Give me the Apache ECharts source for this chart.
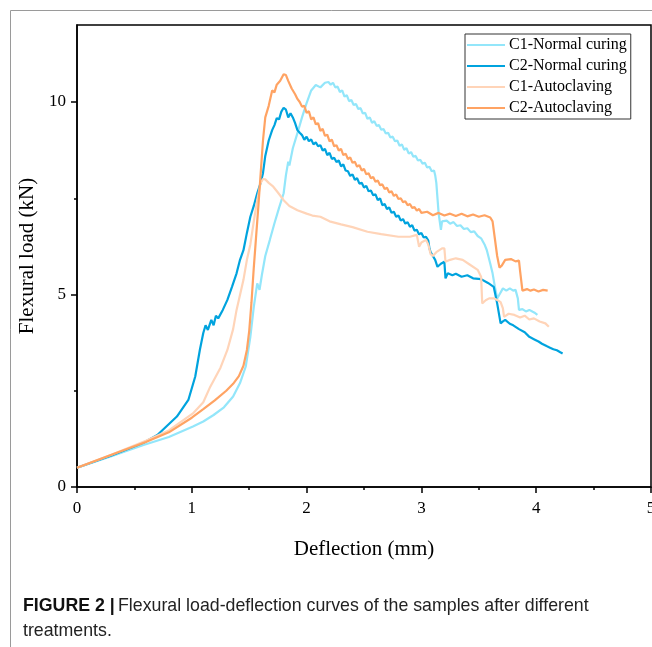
<!DOCTYPE html>
<html>
<head>
<meta charset="utf-8">
<script src="https://cdn.jsdelivr.net/npm/echarts@6/dist/echarts.min.js"></script>
<style>
html,body{margin:0;padding:0;background:#fff;}
#chart{width:652px;height:647px;}
</style>
</head>
<body>
<div id="chart"></div>
<script>
// ---- data (deflection mm, load kN) ----
const seriesNames = ['C1-Normal curing', 'C2-Normal curing', 'C1-Autoclaving', 'C2-Autoclaving'];
const xTicks = [0, 1, 2, 3, 4, 5];
const yTicks = [0, 5, 10];

const c1Normal = [
  [0,0.5],[0.3,0.8],[0.58,1.09],[0.8,1.3],[1.01,1.57],[1.1,1.7],[1.19,1.87],[1.28,2.07],[1.36,2.35],[1.42,2.7],
  [1.47,3.13],[1.51,3.9],[1.54,4.68],[1.57,5.29],[1.59,5.12],[1.61,5.5],[1.64,6.0],[1.68,6.42],[1.72,6.85],
  [1.76,7.25],[1.8,7.63],[1.82,8.1],[1.84,8.45],[1.85,8.35],[1.88,8.8],[1.92,9.19],[1.96,9.6],[2.0,9.97],
  [2.04,10.3],[2.08,10.44],[2.12,10.38],[2.16,10.5],[2.19,10.52],[2.21,10.45],[2.23,10.5],[2.25,10.38],
  [2.27,10.4],[2.29,10.26],[2.31,10.3],[2.33,10.14],[2.35,10.18],[2.37,10.02],[2.39,10.05],[2.41,9.92],
  [2.43,9.95],[2.45,9.82],[2.47,9.84],[2.49,9.7],[2.51,9.72],[2.53,9.56],[2.55,9.6],[2.57,9.46],[2.59,9.5],
  [2.61,9.38],[2.63,9.4],[2.65,9.28],[2.67,9.3],[2.69,9.18],[2.71,9.2],[2.73,9.08],[2.75,9.1],[2.77,8.98],
  [2.79,9.0],[2.81,8.86],[2.83,8.9],[2.85,8.76],[2.87,8.8],[2.89,8.66],[2.91,8.7],[2.93,8.58],[2.95,8.6],
  [2.97,8.48],[2.99,8.5],[3.01,8.4],[3.03,8.42],[3.05,8.3],[3.07,8.32],[3.09,8.2],[3.11,8.22],[3.12,8.1],
  [3.13,7.9],[3.15,7.11],[3.17,6.68],[3.18,6.9],[3.22,6.92],[3.25,6.84],[3.28,6.88],[3.31,6.78],[3.34,6.8],
  [3.37,6.7],[3.4,6.72],[3.43,6.62],[3.46,6.64],[3.49,6.52],[3.52,6.46],[3.55,6.3],[3.57,6.15],[3.6,5.8],
  [3.62,5.55],[3.64,5.2],[3.66,4.9],[3.68,5.0],[3.71,5.16],[3.74,5.1],[3.77,5.16],[3.8,5.1],[3.82,5.12],
  [3.84,4.9],[3.85,4.6],[3.88,4.62],[3.91,4.56],[3.94,4.6],[3.97,4.55],[3.99,4.52],[4.01,4.47]
];

const c2Normal = [
  [0,0.5],[0.3,0.82],[0.58,1.15],[0.7,1.35],[0.87,1.83],[0.97,2.26],[1.03,2.87],[1.07,3.56],[1.1,4.0],
  [1.12,4.2],[1.14,4.08],[1.17,4.34],[1.19,4.2],[1.21,4.45],[1.23,4.38],[1.27,4.6],[1.31,4.86],[1.35,5.2],
  [1.39,5.55],[1.42,5.9],[1.45,6.15],[1.48,6.6],[1.51,7.02],[1.54,7.3],[1.57,7.63],[1.6,7.9],[1.62,8.15],
  [1.64,8.6],[1.67,9.0],[1.7,9.27],[1.72,9.4],[1.74,9.58],[1.76,9.55],[1.78,9.75],[1.8,9.85],[1.82,9.8],
  [1.84,9.6],[1.86,9.71],[1.88,9.6],[1.9,9.45],[1.92,9.27],[1.94,9.2],[1.96,9.14],[1.98,9.02],[2.0,9.1],
  [2.02,8.98],[2.04,9.03],[2.06,8.9],[2.08,8.95],[2.1,8.85],[2.12,8.88],[2.14,8.74],[2.16,8.78],[2.18,8.62],
  [2.2,8.68],[2.22,8.52],[2.24,8.55],[2.26,8.44],[2.28,8.48],[2.3,8.33],[2.32,8.38],[2.34,8.22],[2.36,8.2],
  [2.38,8.08],[2.4,8.12],[2.42,7.98],[2.44,8.02],[2.46,7.88],[2.48,7.9],[2.5,7.78],[2.52,7.82],[2.54,7.68],
  [2.56,7.7],[2.58,7.58],[2.6,7.6],[2.62,7.45],[2.64,7.5],[2.66,7.32],[2.68,7.35],[2.7,7.22],[2.72,7.26],
  [2.74,7.12],[2.76,7.15],[2.78,7.02],[2.8,7.05],[2.82,6.92],[2.84,6.96],[2.86,6.84],[2.88,6.88],[2.9,6.76],
  [2.92,6.8],[2.94,6.66],[2.96,6.68],[2.98,6.56],[3.0,6.6],[3.02,6.48],[3.04,6.5],[3.06,6.4],[3.07,6.2],
  [3.08,6.1],[3.1,6.0],[3.12,5.9],[3.14,5.72],[3.17,5.8],[3.2,5.85],[3.21,5.42],[3.23,5.55],[3.27,5.5],
  [3.3,5.54],[3.35,5.46],[3.4,5.5],[3.45,5.42],[3.52,5.4],[3.58,5.3],[3.63,5.2],[3.66,4.77],[3.69,4.25],
  [3.71,4.3],[3.73,4.34],[3.77,4.24],[3.8,4.2],[3.85,4.1],[3.9,4.02],[3.94,3.9],[3.98,3.84],[4.02,3.78],
  [4.05,3.72],[4.09,3.66],[4.12,3.62],[4.15,3.58],[4.18,3.55],[4.21,3.5],[4.23,3.47]
];

const c1Auto = [
  [0,0.5],[0.3,0.84],[0.6,1.2],[0.8,1.47],[1.01,1.91],[1.1,2.2],[1.16,2.6],[1.25,3.1],[1.31,3.56],
  [1.36,4.1],[1.39,4.6],[1.45,5.38],[1.48,5.9],[1.51,6.3],[1.54,6.9],[1.57,7.45],[1.6,7.9],[1.62,8.0],
  [1.64,7.99],[1.67,7.9],[1.71,7.8],[1.75,7.65],[1.8,7.45],[1.85,7.3],[1.92,7.19],[2.0,7.1],[2.05,7.05],
  [2.12,7.02],[2.2,6.9],[2.3,6.82],[2.4,6.75],[2.53,6.63],[2.65,6.57],[2.8,6.5],[2.9,6.5],[2.96,6.55],
  [2.98,6.24],[3.0,6.35],[3.04,6.42],[3.06,6.3],[3.08,6.05],[3.1,6.0],[3.13,6.1],[3.18,6.2],[3.2,6.2],
  [3.21,5.85],[3.25,5.9],[3.3,5.94],[3.36,5.9],[3.42,5.78],[3.49,5.64],[3.52,5.46],[3.53,4.77],[3.56,4.85],
  [3.59,4.9],[3.63,4.9],[3.66,4.86],[3.69,4.8],[3.71,4.64],[3.72,4.42],[3.76,4.5],[3.81,4.47],[3.86,4.4],
  [3.9,4.45],[3.94,4.35],[3.98,4.38],[4.03,4.3],[4.08,4.25],[4.11,4.16]
];

const c2Auto = [
  [0,0.5],[0.3,0.84],[0.6,1.17],[0.8,1.42],[1.0,1.8],[1.1,2.02],[1.2,2.25],[1.3,2.5],[1.36,2.68],
  [1.41,2.88],[1.45,3.15],[1.48,3.56],[1.5,4.05],[1.52,4.8],[1.54,5.7],[1.56,6.5],[1.58,7.3],[1.6,8.15],
  [1.62,9.0],[1.64,9.6],[1.67,9.9],[1.7,10.3],
  [1.72,10.25],[1.74,10.45],[1.77,10.55],[1.8,10.72],[1.82,10.7],[1.84,10.55],[1.87,10.35],[1.9,10.2],
  [1.92,10.08],[1.94,10.0],[1.96,9.88],[1.98,9.9],[2.0,9.72],[2.02,9.76],[2.04,9.55],[2.06,9.6],[2.08,9.42],
  [2.1,9.45],[2.12,9.25],[2.14,9.3],[2.16,9.12],[2.18,9.15],[2.2,8.98],[2.22,9.02],[2.24,8.85],[2.26,8.88],
  [2.28,8.74],[2.3,8.78],[2.32,8.62],[2.34,8.66],[2.36,8.52],[2.38,8.56],[2.4,8.42],[2.42,8.45],[2.44,8.32],
  [2.46,8.36],[2.48,8.22],[2.5,8.26],[2.52,8.12],[2.54,8.15],[2.56,8.02],[2.58,8.05],[2.6,7.93],[2.62,7.96],
  [2.64,7.84],[2.66,7.86],[2.68,7.74],[2.7,7.77],[2.72,7.65],[2.74,7.68],[2.76,7.56],[2.78,7.6],[2.8,7.48],
  [2.82,7.5],[2.84,7.4],[2.86,7.42],[2.88,7.32],[2.9,7.35],[2.92,7.25],[2.94,7.27],[2.96,7.18],[2.98,7.22],
  [3.0,7.12],[3.05,7.15],[3.1,7.06],[3.15,7.12],[3.2,7.05],[3.25,7.1],[3.3,7.04],[3.35,7.1],[3.4,7.03],
  [3.45,7.08],[3.5,7.02],[3.55,7.06],[3.6,7.0],[3.62,6.9],[3.66,6.0],[3.68,5.7],[3.7,5.75],[3.73,5.9],
  [3.78,5.92],[3.82,5.86],[3.85,5.88],[3.86,5.6],[3.88,5.1],[3.92,5.14],[3.95,5.1],[3.98,5.13],[4.02,5.08],
  [4.06,5.12],[4.1,5.1]
];

const seriesData = [c1Normal, c2Normal, c1Auto, c2Auto];
const colors = ['#93E6FA', '#00A3DE', '#FFD4B8', '#FFA363'];

const chart = echarts.init(document.getElementById('chart'), null, {renderer: 'canvas'});
const serif = '"Liberation Serif", "Times New Roman", serif';
const sans = '"Liberation Sans", Arial, sans-serif';

chart.setOption({
  animation: false,
  backgroundColor: '#ffffff',
  color: colors,
  grid: {left: 77, right: 1, top: 25, bottom: 160, show: true, borderColor: '#000', borderWidth: 1.5,
    backgroundColor: 'transparent', containLabel: false, outerBoundsMode: 'none'},
  legend: {
    data: seriesNames,
    orient: 'vertical',
    left: 465, top: 34,
    backgroundColor: '#fff',
    borderColor: '#333', borderWidth: 1,
    padding: [2, 4, 2, 2],
    itemWidth: 38, itemHeight: 2, itemGap: 3,
    icon: 'rect',
    textStyle: {fontFamily: serif, fontSize: 16, color: '#000', lineHeight: 18, padding: [0,0,0,-1]}
  },
  xAxis: {
    type: 'value', min: 0, max: 5, interval: 1,
    name: 'Deflection (mm)', nameLocation: 'middle', nameGap: 52,
    nameTextStyle: {fontFamily: serif, fontSize: 21, color: '#000'},
    axisLine: {show: true, onZero: false, lineStyle: {color: '#000', width: 1.5}},
    axisTick: {show: true, inside: false, length: 6, lineStyle: {color: '#000', width: 1.5}},
    minorTick: {show: true, splitNumber: 2, length: 3, lineStyle: {color: '#000', width: 1.5}},
    axisLabel: {fontFamily: serif, fontSize: 17, color: '#000', margin: 13,
      formatter: v => xTicks.indexOf(v) >= 0 ? String(v) : ''},
    splitLine: {show: false}
  },
  yAxis: {
    type: 'value', min: 0, max: 12, interval: 5,
    name: 'Flexural load (kN)', nameLocation: 'middle', nameGap: 38,
    nameTextStyle: {fontFamily: serif, fontSize: 21, color: '#000'},
    axisLine: {show: true, onZero: false, lineStyle: {color: '#000', width: 1.5}},
    axisTick: {show: true, inside: false, length: 6, customValues: yTicks, lineStyle: {color: '#000', width: 1.5}},
    minorTick: {show: true, splitNumber: 2, length: 3, lineStyle: {color: '#000', width: 1.5}},
    axisLabel: {fontFamily: serif, fontSize: 17, color: '#000', margin: 11, showMaxLabel: false,
      formatter: v => yTicks.indexOf(v) >= 0 ? String(v) : ''},
    splitLine: {show: false}
  },
  series: seriesNames.map((n, i) => ({
    name: n, type: 'line', data: seriesData[i],
    showSymbol: false, symbol: 'none',
    lineStyle: {width: 2.2, color: colors[i]},
    itemStyle: {color: colors[i]},
    z: 2 + i
  })),
  graphic: [
    {type: 'rect', left: 8, top: 8, silent: true,
     shape: {x: 0, y: 0, width: 800, height: 800},
     style: {fill: 'none', stroke: '#9a9a9a', lineWidth: 1}},
    {type: 'text', x: 23, y: 593, scaleX: 0.935, scaleY: 1, silent: true,
     style: {
       text: '{b|FIGURE 2 |} {r|Flexural load-deflection curves of the samples after different}\n{r|treatments.}',
       lineHeight: 25,
       rich: {
         b: {fontFamily: sans, fontWeight: 'bold', fontSize: 19, fill: '#111', lineHeight: 25},
         r: {fontFamily: sans, fontSize: 19, fill: '#222', lineHeight: 25}
       }
     }}
  ]
});
</script>
</body>
</html>
